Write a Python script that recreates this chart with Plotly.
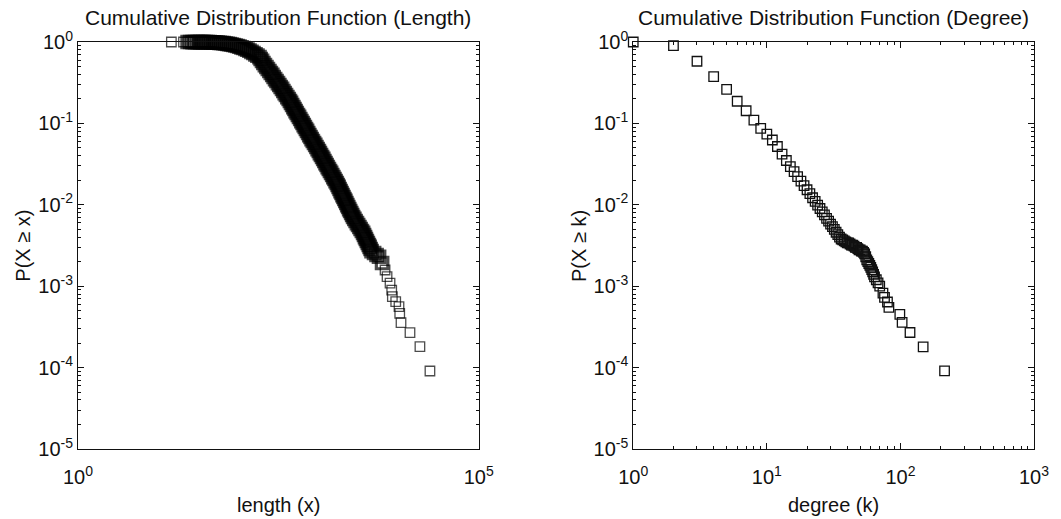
import numpy as np
import plotly.graph_objects as go

# ---------------- data ----------------
# Left panel: CCDF of length, values given as log10 readings
length_log10 = [
    1.165, 1.316, 1.368, 1.399, 1.430, 1.461, 1.493, 1.524, 1.549,
    1.567, 1.592, 1.617, 1.642, 1.667, 1.692, 1.716, 1.741, 1.766, 1.791,
    1.816, 1.841, 1.866, 1.891, 1.915, 1.940, 1.965, 1.990, 2.015, 2.040,
    2.065, 2.090, 2.114, 2.139, 2.164, 2.189, 2.214, 2.239, 2.264,
    2.279, 2.296, 2.313, 2.332, 2.351, 2.369, 2.388, 2.406, 2.424, 2.441,
    2.459, 2.477, 2.495, 2.512, 2.529, 2.546, 2.562, 2.579, 2.595, 2.612,
    2.629, 2.644, 2.658, 2.672, 2.687, 2.701, 2.715, 2.729, 2.744, 2.758,
    2.773, 2.787, 2.802, 2.816, 2.830, 2.844, 2.858, 2.872, 2.886, 2.901,
    2.915, 2.930, 2.945, 2.960, 2.975, 2.990, 3.005, 3.018, 3.032, 3.046,
    3.060, 3.074, 3.088, 3.102, 3.116, 3.130, 3.144, 3.158, 3.172, 3.186,
    3.200, 3.214, 3.228, 3.240, 3.252, 3.264, 3.276, 3.288, 3.300, 3.312,
    3.324, 3.336, 3.348, 3.360, 3.372, 3.384, 3.396, 3.409, 3.421, 3.433,
    3.448, 3.464, 3.480, 3.495, 3.511, 3.526, 3.542, 3.557, 3.569, 3.581,
    3.592, 3.604, 3.616, 3.628, 3.639, 3.651, 3.663, 3.694, 3.725,
    3.756, 3.794, 3.831, 3.856, 3.893, 3.914, 3.922, 3.964, 4.005, 4.014,
    4.030, 4.142, 4.266, 4.391,
]
length_p_log10 = [
    0.0, -0.0001, -0.0002, -0.0003, -0.0004, -0.0005, -0.0006, -0.0008, -0.0010,
    -0.0012, -0.0014, -0.0020, -0.0025, -0.0037, -0.0049, -0.0061, -0.0074, -0.0098, -0.0123,
    -0.0147, -0.0184, -0.0221, -0.0258, -0.0307, -0.0369, -0.0430, -0.0491, -0.0565, -0.0651,
    -0.0737, -0.0835, -0.0946, -0.1069, -0.1204, -0.1351, -0.1511, -0.1683, -0.1867,
    -0.209, -0.233, -0.258, -0.283, -0.307, -0.332, -0.356, -0.381, -0.405, -0.430,
    -0.455, -0.479, -0.504, -0.528, -0.553, -0.577, -0.602, -0.627, -0.651, -0.676,
    -0.700, -0.725, -0.749, -0.774, -0.799, -0.823, -0.848, -0.872, -0.897, -0.921,
    -0.946, -0.971, -0.995, -1.020, -1.044, -1.069, -1.093, -1.118, -1.143, -1.167,
    -1.192, -1.216, -1.241, -1.265, -1.290, -1.315, -1.339, -1.364, -1.388, -1.413,
    -1.437, -1.462, -1.487, -1.511, -1.536, -1.560, -1.585, -1.609, -1.634, -1.659,
    -1.683, -1.708, -1.732, -1.757, -1.781, -1.806, -1.831, -1.855, -1.880, -1.904,
    -1.929, -1.953, -1.978, -2.003, -2.027, -2.052, -2.076, -2.101, -2.125, -2.150,
    -2.174, -2.199, -2.224, -2.248, -2.273, -2.297, -2.322, -2.346, -2.371, -2.396,
    -2.420, -2.445, -2.469, -2.494, -2.518, -2.543, -2.568, -2.592, -2.617,
    -2.638, -2.715, -2.801, -2.883, -2.961, -3.047, -3.129, -3.190, -3.252, -3.333,
    -3.448, -3.571, -3.743, -4.042,
]

# Right panel: CCDF of degree
degree_k = [
    1, 2, 3, 4, 5, 6, 7, 8, 9, 10, 11, 12, 13, 14, 15, 16, 17, 18, 19, 20,
    21, 22, 23, 24, 25, 26, 27, 28, 29, 30, 31, 32, 33, 34, 35, 36, 37, 38, 39, 40,
    41, 42, 43, 44, 45, 46, 47, 48, 49, 50, 51, 52, 53, 54, 55, 56, 57, 58, 59, 60,
    61, 62, 63, 64, 66, 68, 70, 74, 76, 80, 82, 99, 103, 118, 148, 214,
]
degree_p = [
    1.0, 0.90, 0.58, 0.375, 0.262, 0.187, 0.143, 0.110, 0.087, 0.074,
    0.0625, 0.052, 0.042, 0.035, 0.0295, 0.0255, 0.0222, 0.0195, 0.0172, 0.0153,
    0.0137, 0.0122, 0.0110, 0.0099, 0.0090, 0.0082, 0.0075, 0.0068, 0.0063, 0.0058,
    0.0054, 0.0050, 0.0046, 0.0043, 0.0040, 0.0038, 0.0037, 0.0036, 0.0035, 0.0034,
    0.0034, 0.0033, 0.0032, 0.0032, 0.0031, 0.0030, 0.0030, 0.0029, 0.0028, 0.0028,
    0.0027, 0.0027, 0.0026, 0.0025, 0.0023, 0.0021, 0.0020, 0.0019, 0.0018, 0.0017,
    0.0016, 0.0015, 0.0014, 0.0013, 0.0012, 0.0011, 0.0010, 0.00082, 0.00073, 0.00064,
    0.00055, 0.00045, 0.00036, 0.00027, 0.00018, 0.000091,
]

# Tick labels
y_tick_vals = [1e-5, 1e-4, 1e-3, 1e-2, 1e-1, 1]
y_tick_text = ["10<sup>-5</sup>", "10<sup>-4</sup>", "10<sup>-3</sup>",
               "10<sup>-2</sup>", "10<sup>-1</sup>", "10<sup>0</sup>"]
x1_tick_vals = [1, 1e5]
x1_tick_text = ["10<sup>0</sup>", "10<sup>5</sup>"]
x2_tick_vals = [1, 10, 100, 1000]
x2_tick_text = ["10<sup>0</sup>", "10<sup>1</sup>", "10<sup>2</sup>", "10<sup>3</sup>"]

titles = ["Cumulative Distribution Function (Length)",
          "Cumulative Distribution Function (Degree)"]
x_labels = ["length (x)", "degree (k)"]
y_labels = ["P(X \u2265 x)", "P(X \u2265 k)"]

# ---------------- figure ----------------
FONT = "Liberation Sans, Arial, sans-serif"
INK = "#000000"

length_x = 10 ** np.array(length_log10)
length_p = 10 ** np.array(length_p_log10)

# bigger, heavier outlines where the squares pile up into a solid band
n_len = len(length_x)
is_sparse = [(i < 2 or i >= n_len - 12) for i in range(n_len)]
len_lw = [1.3 if s else 3.2 for s in is_sparse]
len_size = [9.5 if s else 11.5 for s in is_sparse]

fig = go.Figure()
fig.add_trace(go.Scatter(
    x=length_x, y=length_p, mode="markers", cliponaxis=False,
    marker=dict(symbol="square-open", size=len_size, color=INK,
                line=dict(color=INK, width=len_lw)),
    xaxis="x", yaxis="y", showlegend=False))
fig.add_trace(go.Scatter(
    x=degree_k, y=degree_p, mode="markers", cliponaxis=False,
    marker=dict(symbol="square-open", size=9.5, color="#111111",
                line=dict(color="#111111", width=1.3)),
    xaxis="x2", yaxis="y2", showlegend=False))

def minor_vals(lo, hi):
    vals = []
    for e in range(lo, hi):
        for m in range(2, 10):
            vals.append(m * 10.0 ** e)
    return vals

AX = "#111111"
common = dict(type="log", showline=True, linecolor=AX, linewidth=1, mirror="allticks",
              ticks="inside", ticklen=6, tickcolor=AX, tickwidth=1, showgrid=False,
              zeroline=False, tickmode="array",
              tickfont=dict(family=FONT, size=20, color=AX))

fig.update_layout(
    width=1061, height=519, autosize=False,
    margin=dict(l=78, r=24, t=42, b=70, pad=0),
    paper_bgcolor="white", plot_bgcolor="white",
    font=dict(family=FONT, color=AX),
    xaxis=dict(domain=[0, 0.4192], range=[0, 5], anchor="y",
               tickvals=x1_tick_vals, ticktext=x1_tick_text,
               ticklabelstandoff=10, **common),
    yaxis=dict(domain=[0, 1], range=[-5, 0], anchor="x",
               tickvals=y_tick_vals, ticktext=y_tick_text,
               minor=dict(tickvals=minor_vals(-5, 0), ticks="inside", ticklen=3,
                          tickcolor=AX), **common),
    xaxis2=dict(domain=[0.5808, 1.0], range=[0, 3], anchor="y2",
                tickvals=x2_tick_vals, ticktext=x2_tick_text,
                ticklabelstandoff=10,
                minor=dict(tickvals=minor_vals(0, 3), ticks="inside", ticklen=3,
                           tickcolor=AX), **common),
    yaxis2=dict(domain=[0, 1], range=[-5, 0], anchor="x2",
                tickvals=y_tick_vals, ticktext=y_tick_text,
                minor=dict(tickvals=minor_vals(-5, 0), ticks="inside", ticklen=3,
                           tickcolor=AX), **common),
)

centers = [0.2096, 0.7904]
ylab_x = [-0.0584, 0.5235]
for i in range(2):
    fig.add_annotation(text=titles[i], xref="paper", yref="paper", x=centers[i], y=1,
                       xanchor="center", yanchor="bottom", yshift=11, showarrow=False,
                       font=dict(family=FONT, size=21, color=AX))
    fig.add_annotation(text=x_labels[i], xref="paper", yref="paper", x=centers[i], y=-0.1376,
                       xanchor="center", yanchor="middle", showarrow=False,
                       font=dict(family=FONT, size=20, color=AX))
    fig.add_annotation(text=y_labels[i], xref="paper", yref="paper", x=ylab_x[i], y=0.5,
                       xanchor="center", yanchor="middle", textangle=-90, showarrow=False,
                       font=dict(family=FONT, size=20, color=AX))

fig.write_html("out.html", config={"displayModeBar": False},
               post_script="document.body.style.margin='0';document.body.style.padding='0';")
